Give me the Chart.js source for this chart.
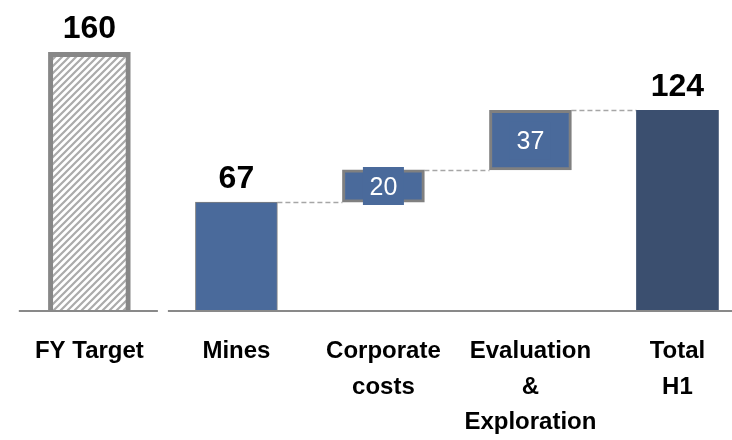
<!DOCTYPE html>
<html>
<head>
<meta charset="utf-8">
<script src="https://cdn.jsdelivr.net/npm/chart.js@4.4.0/dist/chart.umd.min.js"></script>
<style>
  body { margin: 0; background: #fff; }
  #wrap { width: 732px; height: 440px; }
</style>
</head>
<body>
<div id="wrap"><canvas id="waterfall"></canvas></div>
<script>
const categories = ["FY Target", "Mines", "Corporate costs", "Evaluation & Exploration", "Total H1"];
const tickLines = [["FY Target"], ["Mines"], ["Corporate", "costs"], ["Evaluation", "&", "Exploration"], ["Total", "H1"]];
const values = [160, 67, 20, 37, 124];

// first bar is the target, last is the total, the rest stack up from zero
let running = 0;
const ranges = values.map((v, i) => {
  if (i === 0 || i === values.length - 1) return [0, v];
  const r = [running, running + v];
  running += v;
  return r;
});

const FONT = "'Liberation Sans', Arial, sans-serif";
const BLUE = "#4a6a9b";
const NAVY = "#3b4f6f";
const GREY = "#808080";

function makeHatch() {
  const size = 7;
  const c = document.createElement("canvas");
  c.width = size;
  c.height = size;
  const g = c.getContext("2d");
  g.fillStyle = "#ffffff";
  g.fillRect(0, 0, size, size);
  g.strokeStyle = "#ababab";
  g.lineWidth = 2.2;
  g.beginPath();
  g.moveTo(-2, size + 2); g.lineTo(size + 2, -2);
  g.moveTo(-2, 2); g.lineTo(2, -2);
  g.moveTo(size - 2, size + 2); g.lineTo(size + 2, size - 2);
  g.stroke();
  return g.createPattern(c, "repeat");
}

const isFloating = (i) => ranges[i][0] > 0;

const baseline = {
  id: "baseline",
  beforeDatasetsDraw(chart) {
    const { ctx, chartArea } = chart;
    const x = chart.scales.x;
    const y = chart.scales.y.getPixelForValue(0) + 1;
    const step = x.getPixelForValue(1) - x.getPixelForValue(0);
    const gap = x.getPixelForValue(0.5);
    ctx.save();
    ctx.strokeStyle = "#898989";
    ctx.lineWidth = 2;
    ctx.beginPath();
    ctx.moveTo(x.getPixelForValue(0) - step * 0.48, y);
    ctx.lineTo(gap - 5, y);
    ctx.moveTo(gap + 5, y);
    ctx.lineTo(chartArea.right, y);
    ctx.stroke();
    ctx.restore();
  },
};

const connectors = {
  id: "connectors",
  beforeDatasetsDraw(chart) {
    const { ctx } = chart;
    const bars = chart.getDatasetMeta(0).data;
    const y = chart.scales.y;
    ctx.save();
    ctx.strokeStyle = "#a6a6a6";
    ctx.lineWidth = 1.5;
    ctx.setLineDash([5, 3]);
    for (let i = 1; i < values.length - 1; i++) {
      const level = Math.round(y.getPixelForValue(ranges[i][1])) + 0.5;
      ctx.beginPath();
      ctx.moveTo(bars[i].x + bars[i].width / 2, level);
      ctx.lineTo(bars[i + 1].x - bars[i + 1].width / 2, level);
      ctx.stroke();
    }
    ctx.restore();
  },
};

const valueLabels = {
  id: "valueLabels",
  afterDatasetsDraw(chart) {
    const { ctx } = chart;
    const bars = chart.getDatasetMeta(0).data;
    bars.forEach((bar, i) => {
      const text = String(values[i]);
      ctx.save();
      ctx.textAlign = "center";
      ctx.textBaseline = "alphabetic";
      if (isFloating(i)) {
        const cy = (bar.y + bar.base) / 2;
        ctx.fillStyle = BLUE;
        ctx.fillRect(bar.x - 20.5, cy - 19, 41, 38);
        ctx.fillStyle = "#ffffff";
        ctx.font = "25px " + FONT;
        ctx.fillText(text, bar.x, cy + 9);
      } else {
        ctx.fillStyle = "#000000";
        ctx.font = "bold 32px " + FONT;
        ctx.fillText(text, bar.x, bar.y - 14);
      }
      ctx.restore();
    });
  },
};

new Chart(document.getElementById("waterfall"), {
  type: "bar",
  data: {
    datasets: [
      {
        data: ranges.map((r, i) => ({ x: i, y: r })),
        backgroundColor: [makeHatch(), BLUE, BLUE, BLUE, NAVY],
        borderColor: ["#878787", GREY, GREY, GREY, NAVY],
        borderWidth: [5, 1, 3, 3, 0],
        borderSkipped: (ctx) => (isFloating(ctx.dataIndex) ? false : "start"),
        barThickness: 82,
      },
    ],
  },
  options: {
    responsive: true,
    maintainAspectRatio: false,
    animation: false,
    layout: { padding: 0 },
    plugins: {
      legend: { display: false },
      tooltip: { enabled: false },
    },
    scales: {
      x: {
        type: "linear",
        offset: false,
        min: -0.608,
        max: 4.371,
        grid: { display: false, drawTicks: false },
        border: { display: false },
        afterBuildTicks: (axis) => {
          axis.ticks = categories.map((_, i) => ({ value: i }));
        },
        afterFit: (axis) => {
          axis.height = 130;
        },
        ticks: {
          autoSkip: false,
          maxRotation: 0,
          padding: 24,
          color: "#000000",
          font: { family: FONT, size: 24, weight: "bold", lineHeight: 1.48 },
          callback: (value) => tickLines[value],
        },
      },
      y: {
        display: false,
        min: 0,
        max: 192.5,
      },
    },
  },
  plugins: [baseline, connectors, valueLabels],
});
</script>
</body>
</html>
